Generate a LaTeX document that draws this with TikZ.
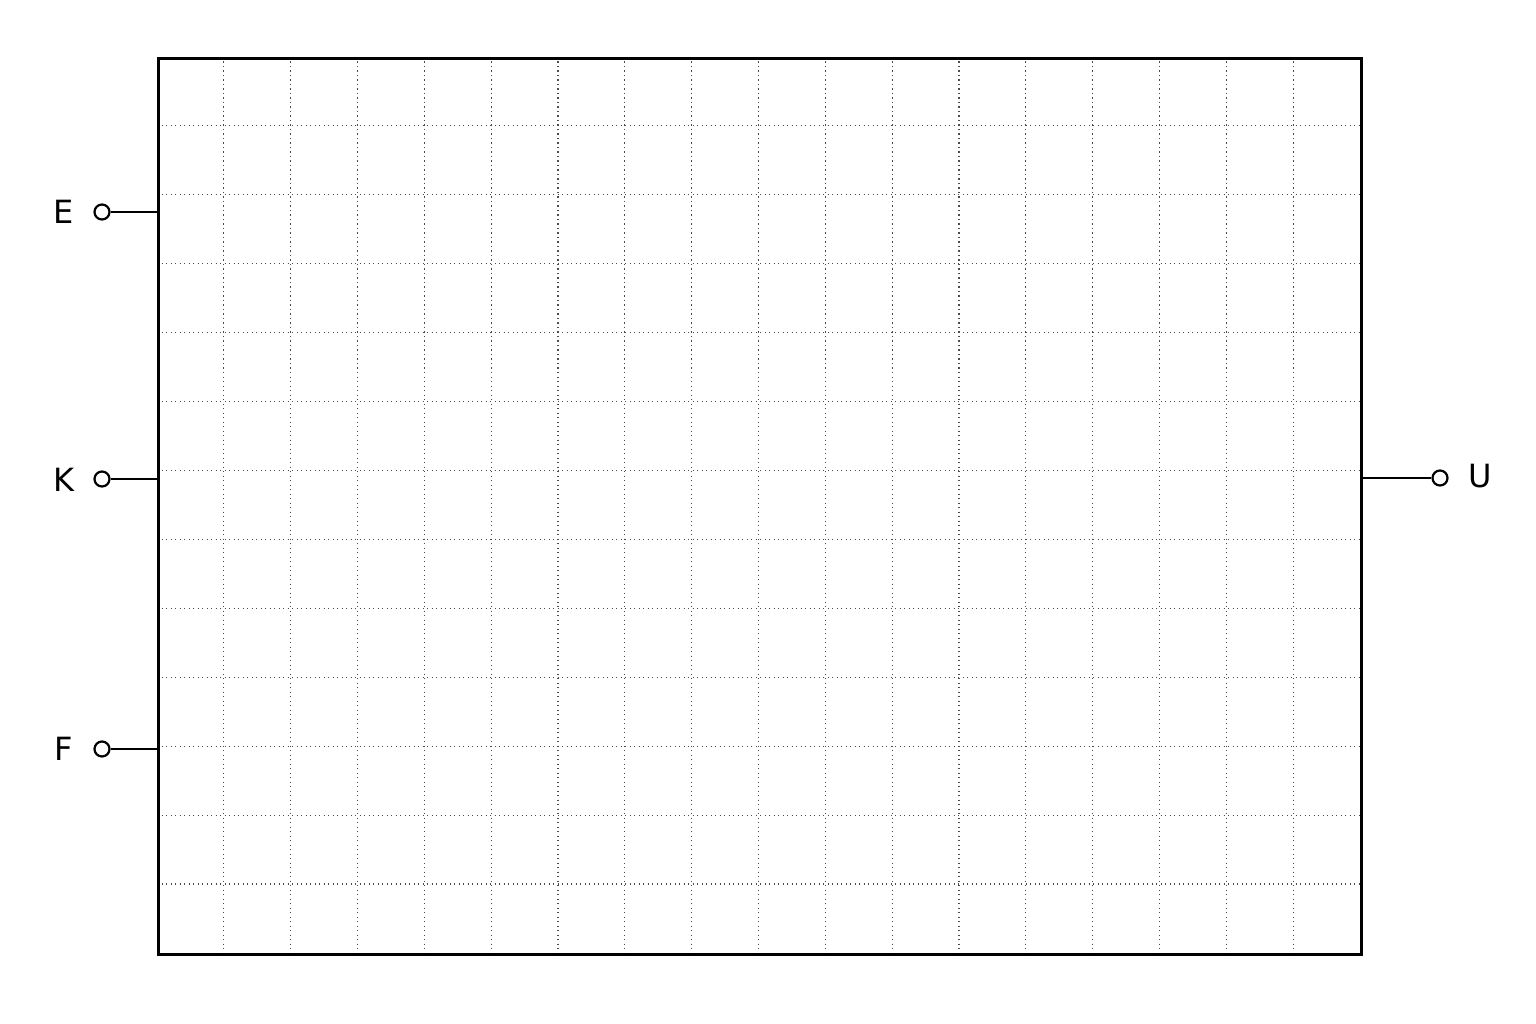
\documentclass[tikz,border=0pt]{standalone}
\usepackage{fontspec}
\setmainfont{DejaVu Sans}
\begin{document}
\begin{tikzpicture}[x=1pt,y=-1pt,
  frame/.style={draw=black,line width=2.6pt},
  gridline/.style={draw=black!70,line width=1.1pt,dash pattern=on 1.3pt off 3.2pt},
  wire/.style={draw=black,line width=2.5pt},
  term/.style={circle,draw=black,line width=2.2pt,fill=white,minimum size=15pt,inner sep=0pt},
  lbl/.style={font=\fontsize{32}{38}\selectfont,inner sep=0pt}]
\useasboundingbox (0,0) rectangle (1536,1024);
% grid
\foreach \k in {1,...,17} {
  \draw[gridline] ({157+\k*66.83},57) -- ({157+\k*66.83},953);
}
\foreach \k in {1,...,12} {
  \draw[gridline] (157,{57+\k*68.92}) -- (1360,{57+\k*68.92});
}
\node[frame,minimum width=1203pt,minimum height=896pt,anchor=north west,inner sep=0pt] (box) at (157,57) {};
% terminals
\coordinate (eE) at (157,212);
\coordinate (eK) at (157,479);
\coordinate (eF) at (157,749);
\coordinate (eU) at (1360,478);
\node[term] (tE) at (102,212) {};
\node[term] (tK) at (102,479) {};
\node[term] (tF) at (102,749) {};
\node[term] (tU) at (1440,478) {};
\draw[wire] (tE) -- (eE);
\draw[wire] (tK) -- (eK);
\draw[wire] (tF) -- (eF);
\draw[wire] (eU) -- (tU);
\node[lbl] (lE) at (64,212) {E};
\node[lbl] (lK) at (64,480) {K};
\node[lbl] (lF) at (64,749) {F};
\node[lbl] (lU) at (1480,476) {U};
\end{tikzpicture}
\end{document}
